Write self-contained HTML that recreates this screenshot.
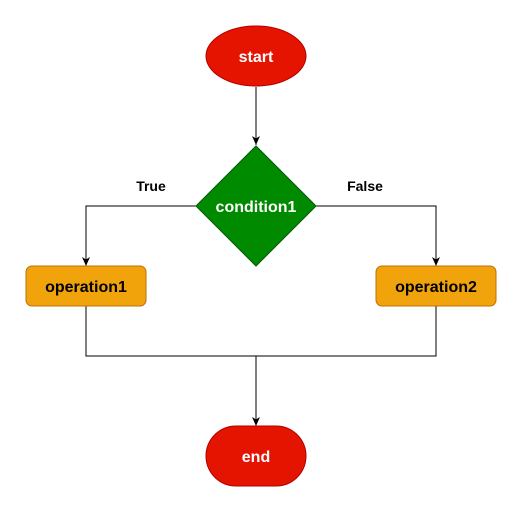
<!DOCTYPE html>
<html><head><style>body{margin:0;background:#fff}</style></head><body>
<svg width="520" height="514" xmlns="http://www.w3.org/2000/svg" font-family="Liberation Sans, sans-serif" font-weight="bold">
<defs><marker id="a" markerWidth="10" markerHeight="10" refX="9" refY="5" orient="auto" markerUnits="userSpaceOnUse"><path d="M0,1 L9,5 L0,9 L2.5,5 z" fill="#000"/></marker></defs>
<g stroke="#000" stroke-width="1" fill="none">
<line x1="256" y1="87" x2="256" y2="145" marker-end="url(#a)"/>
<polyline points="196,206 86,206 86,266" marker-end="url(#a)"/>
<polyline points="316,206 436,206 436,266" marker-end="url(#a)"/>
<polyline points="86,306 86,356 436,356 436,306"/>
<line x1="256" y1="356" x2="256" y2="426" marker-end="url(#a)"/>
</g>
<ellipse cx="256" cy="56" rx="50" ry="30" fill="#e51400" stroke="#b20000"/>
<polygon points="256,146 316,206 256,266 196,206" fill="#008a00" stroke="#005700"/>
<rect x="26" y="266" width="120" height="40" rx="6" fill="#f0a30a" stroke="#bd7000"/>
<rect x="376" y="266" width="120" height="40" rx="6" fill="#f0a30a" stroke="#bd7000"/>
<rect x="206" y="426" width="100" height="60" rx="30" fill="#e51400" stroke="#b20000"/>
<g font-size="16" text-anchor="middle">
<text x="256" y="62" fill="#fff">start</text>
<text x="256" y="212" fill="#fff">condition1</text>
<text x="86" y="292" fill="#000">operation1</text>
<text x="436" y="292" fill="#000">operation2</text>
<text x="256" y="462" fill="#fff">end</text>
</g>
<g font-size="14" text-anchor="middle">
<text x="151" y="191" fill="#000">True</text>
<text x="365" y="191" fill="#000">False</text>
</g>
</svg>
</body></html>
